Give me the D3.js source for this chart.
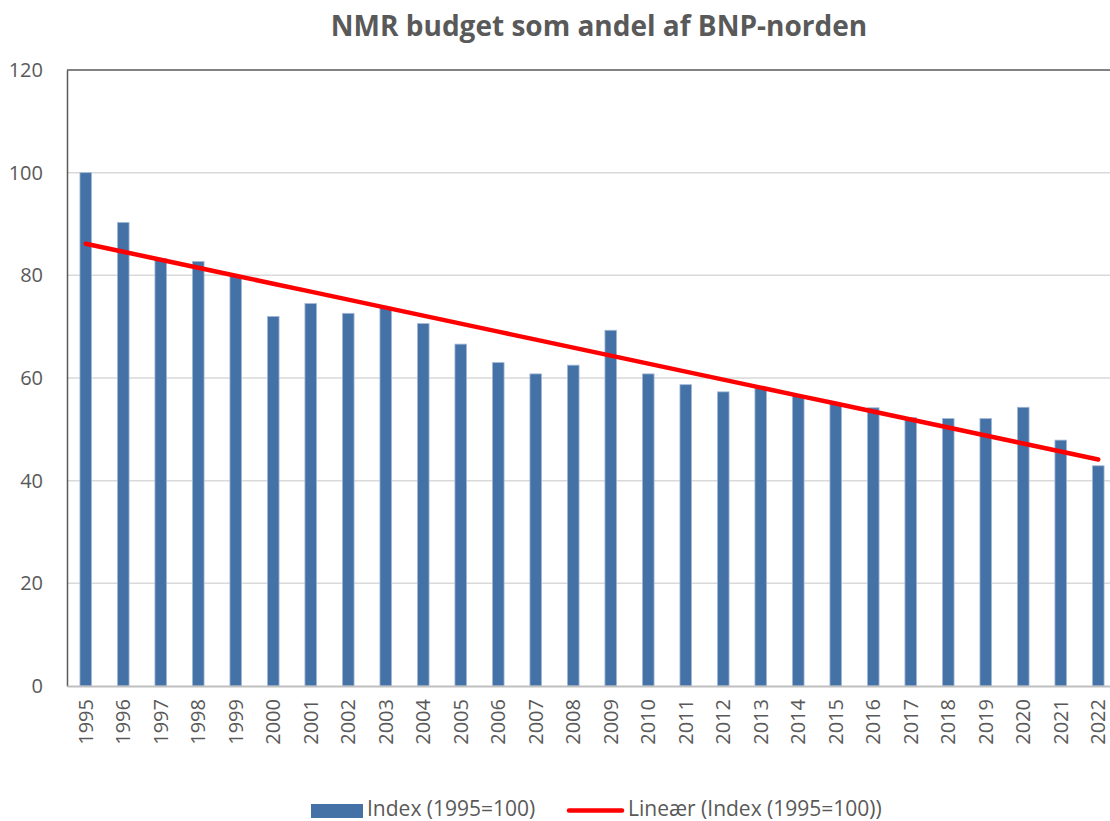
<!DOCTYPE html>
<html>
<head>
<meta charset="utf-8">
<script src="https://cdn.jsdelivr.net/npm/d3@7"></script>
<style>
  body { margin: 0; background: #fff; }
  svg text { font-family: "Open Sans", "Noto Sans", sans-serif; fill: #595959; }
</style>
</head>
<body>
<div id="chart"></div>
<script>
// Data
const years = ['1995', '1996', '1997', '1998', '1999', '2000', '2001', '2002', '2003', '2004',
  '2005', '2006', '2007', '2008', '2009', '2010', '2011', '2012', '2013', '2014',
  '2015', '2016', '2017', '2018', '2019', '2020', '2021', '2022'];
const indexValues = [100, 90.3, 83.3, 82.7, 79.8, 72.0, 74.5, 72.6, 73.8, 70.6,
  66.6, 63.0, 60.8, 62.5, 69.3, 60.8, 58.7, 57.3, 58.0, 56.5,
  55.0, 54.2, 52.3, 52.1, 52.1, 54.3, 47.9, 42.9];
const yTicks = [0, 20, 40, 60, 80, 100, 120];

const title = 'NMR budget som andel af BNP-norden';
const barLabel = 'Index (1995=100)';
const trendLabel = 'Lineær (Index (1995=100))';

const W = 1110, H = 821;
const margin = { top: 70, right: -7, bottom: 135, left: 67 };
const width = W - margin.left - margin.right;   // plot runs past the crop on the right
const height = H - margin.top - margin.bottom;

const svg = d3.select('#chart').append('svg')
  .attr('width', W)
  .attr('height', H);

const g = svg.append('g')
  .attr('transform', `translate(${margin.left},${margin.top})`);

const x = d3.scaleBand().domain(years).range([0, width]).padding(0);
const y = d3.scaleLinear().domain([0, 120]).range([height, 0]);

// Gridlines
g.append('g')
  .selectAll('line')
  .data(yTicks.filter(t => t > 0 && t < 120))
  .enter()
  .append('line')
  .attr('x1', 0)
  .attr('x2', width)
  .attr('y1', d => y(d))
  .attr('y2', d => y(d))
  .attr('stroke', '#d9d9d9')
  .attr('stroke-width', 1.5);

// Bars
const barW = x.bandwidth() * 0.31;
g.selectAll('rect.bar')
  .data(indexValues)
  .enter()
  .append('rect')
  .attr('class', 'bar')
  .attr('x', (d, i) => x(years[i]) + (x.bandwidth() - barW) / 2)
  .attr('y', d => y(d))
  .attr('width', barW)
  .attr('height', d => height - y(d))
  .attr('fill', '#4472a7')
  .attr('stroke', '#a4b9d8')
  .attr('stroke-width', 0.8);

// Linear trend (least squares, as a spreadsheet trendline)
const n = indexValues.length;
const xs = d3.range(n);
const mx = d3.mean(xs), my = d3.mean(indexValues);
const slope = d3.sum(xs, i => (i - mx) * (indexValues[i] - my)) / d3.sum(xs, i => (i - mx) * (i - mx));
const intercept = my - slope * mx;
const trend = xs.map(i => intercept + slope * i);

g.append('path')
  .datum(trend)
  .attr('fill', 'none')
  .attr('stroke', '#ff0000')
  .attr('stroke-width', 4.5)
  .attr('stroke-linecap', 'round')
  .attr('d', d3.line()
    .x((d, i) => x(years[i]) + x.bandwidth() / 2)
    .y(d => y(d)));

// Plot border top
g.append('line')
  .attr('x1', 0).attr('x2', width)
  .attr('y1', 0).attr('y2', 0)
  .attr('stroke', '#595959').attr('stroke-width', 1.5);

// Y axis
const yAxis = g.append('g')
  .call(d3.axisLeft(y).tickValues(yTicks).tickSize(0).tickPadding(24));
yAxis.select('.domain').attr('stroke', '#595959').attr('stroke-width', 1.5);
yAxis.selectAll('text')
  .style('font-size', '20px')
  .attr('fill', '#595959');

// X axis
const xAxis = g.append('g')
  .attr('transform', `translate(0,${height})`)
  .call(d3.axisBottom(x).tickSize(0).tickPadding(0));
xAxis.select('.domain').attr('stroke', '#bfbfbf').attr('stroke-width', 2);
xAxis.selectAll('text')
  .style('font-size', '20px')
  .attr('fill', '#595959')
  .attr('transform', 'translate(0,13)rotate(-90)')
  .attr('x', 0)
  .attr('y', 0)
  .attr('dy', '0.35em')
  .style('text-anchor', 'end');

// Title
svg.append('text')
  .attr('x', 599)
  .attr('y', 36)
  .attr('text-anchor', 'middle')
  .style('font-size', '28px')
  .style('font-weight', 'bold')
  .text(title);

// Legend
const legend = svg.append('g');
legend.append('rect')
  .attr('x', 311).attr('y', 804)
  .attr('width', 52).attr('height', 14)
  .attr('fill', '#4472a7');
legend.append('text')
  .attr('x', 367).attr('y', 816)
  .style('font-size', '21px')
  .text(barLabel);
legend.append('line')
  .attr('x1', 569).attr('x2', 622)
  .attr('y1', 810.5).attr('y2', 810.5)
  .attr('stroke', '#ff0000')
  .attr('stroke-width', 4.5)
  .attr('stroke-linecap', 'round');
legend.append('text')
  .attr('x', 628).attr('y', 816)
  .style('font-size', '21px')
  .text(trendLabel);
</script>
</body>
</html>
